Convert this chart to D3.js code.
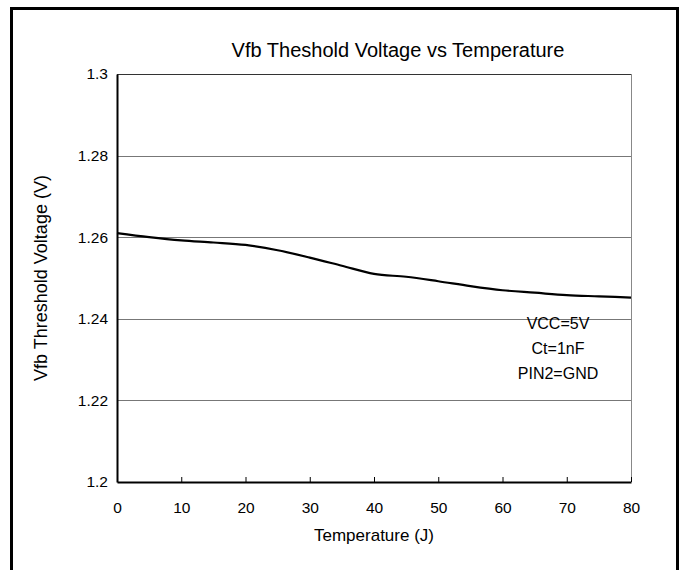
<!DOCTYPE html>
<html>
<head>
<meta charset="utf-8">
<script src="https://cdn.jsdelivr.net/npm/d3@7"></script>
<style>
  body { margin: 0; background: #fff; }
  svg { display: block; font-family: "Liberation Sans", Arial, sans-serif; }
</style>
</head>
<body>
<div id="chart"></div>
<script>
// Vfb threshold voltage vs temperature
const temps = [0, 5, 10, 15, 20, 25, 30, 35, 40, 45, 50, 55, 60, 65, 70, 75, 80];
const vfb = [1.2610, 1.2600, 1.2592, 1.2587, 1.2581, 1.2568, 1.2550, 1.2530, 1.2510,
             1.2503, 1.2492, 1.2480, 1.2470, 1.2464, 1.2458, 1.2455, 1.2452];
const xTicks = [0, 10, 20, 30, 40, 50, 60, 70, 80];
const yTicks = [1.2, 1.22, 1.24, 1.26, 1.28, 1.3];
const notes = ["VCC=5V", "Ct=1nF", "PIN2=GND"];

const width = 684, height = 570;
const margin = {top: 74, right: 53, bottom: 88, left: 117};

const svg = d3.select('#chart').append('svg')
  .attr('width', width)
  .attr('height', height);

// outer frame
svg.append('rect')
  .attr('x', 11.5).attr('y', 8.5)
  .attr('width', 666).attr('height', 570)
  .attr('fill', 'none')
  .attr('stroke', '#000')
  .attr('stroke-width', 3);

const x = d3.scaleLinear().domain([0, 80]).range([margin.left, width - margin.right]);
const y = d3.scaleLinear().domain([1.2, 1.3]).range([height - margin.bottom, margin.top]);

// gridlines
svg.append('g')
  .selectAll('line')
  .data(yTicks.slice(1, -1))
  .join('line')
  .attr('x1', x(0)).attr('x2', x(80))
  .attr('y1', d => Math.round(y(d)) + 0.5).attr('y2', d => Math.round(y(d)) + 0.5)
  .attr('stroke', '#777')
  .attr('stroke-width', 1);

// right border (grey)
svg.append('line')
  .attr('x1', x(80) + 0.5).attr('x2', x(80) + 0.5)
  .attr('y1', y(1.3)).attr('y2', y(1.2))
  .attr('stroke', '#888');

// top border
svg.append('line')
  .attr('x1', x(0)).attr('x2', x(80))
  .attr('y1', y(1.3) + 0.5).attr('y2', y(1.3) + 0.5)
  .attr('stroke', '#333');

// y axis
const yAxis = g => g
  .attr('transform', `translate(${x(0)},0)`)
  .call(d3.axisLeft(y).tickValues(yTicks).tickSize(0).tickPadding(9)
    .tickFormat(d => d3.format('')(+d.toFixed(2))))
  .call(g => g.select('.domain').attr('stroke', '#000').attr('stroke-width', 2))
  .call(g => g.selectAll('text').attr('font-size', 15.5).attr('fill', '#000')
    .attr('font-family', '"Liberation Sans", Arial, sans-serif'));
svg.append('g').call(yAxis);

// x axis
const xAxis = g => g
  .attr('transform', `translate(0,${y(1.2)})`)
  .call(d3.axisBottom(x).tickValues(xTicks).tickSizeInner(-5).tickSizeOuter(0).tickPadding(20))
  .call(g => g.select('.domain').attr('stroke', '#000').attr('stroke-width', 2))
  .call(g => g.selectAll('.tick line').attr('stroke', '#000'))
  .call(g => g.selectAll('text').attr('font-size', 15.5).attr('fill', '#000')
    .attr('font-family', '"Liberation Sans", Arial, sans-serif'));
svg.append('g').call(xAxis);

// curve
const line = d3.line()
  .x((d, i) => x(temps[i]))
  .y(d => y(d))
  .curve(d3.curveMonotoneX);

svg.append('path')
  .datum(vfb)
  .attr('fill', 'none')
  .attr('stroke', '#000')
  .attr('stroke-width', 2.2)
  .attr('d', line);

// title
svg.append('text')
  .attr('x', 398).attr('y', 57)
  .attr('text-anchor', 'middle')
  .attr('font-size', 20)
  .text('Vfb Theshold Voltage vs Temperature');

// axis titles
svg.append('text')
  .attr('x', x(40)).attr('y', 541)
  .attr('text-anchor', 'middle')
  .attr('font-size', 17)
  .text('Temperature (J)');

svg.append('text')
  .attr('transform', `translate(47,${y(1.25)}) rotate(-90)`)
  .attr('text-anchor', 'middle')
  .attr('font-size', 18)
  .text('Vfb Threshold Voltage (V)');

// conditions
svg.append('g')
  .selectAll('text')
  .data(notes)
  .join('text')
  .attr('x', 558)
  .attr('y', (d, i) => 329 + i * 25)
  .attr('text-anchor', 'middle')
  .attr('font-size', 16)
  .text(d => d);
</script>
</body>
</html>
